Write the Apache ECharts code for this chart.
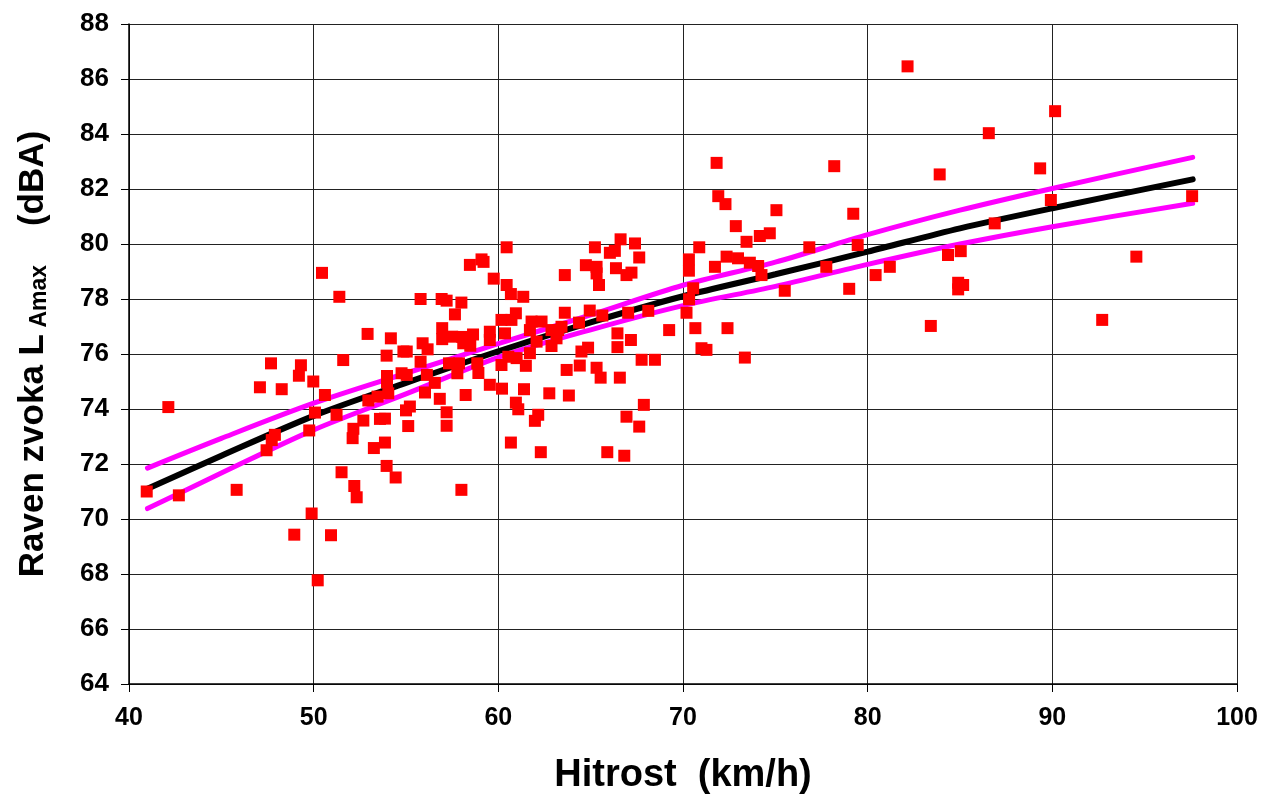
<!DOCTYPE html>
<html>
<head>
<meta charset="utf-8">
<script src="https://cdn.jsdelivr.net/npm/echarts@6/dist/echarts.min.js"></script>
<style>
  html, body { margin: 0; padding: 0; background: #fff; }
  #chart { width: 1263px; height: 794px; }
</style>
</head>
<body>
<div id="chart"></div>
<script>
// measured points: speed (km/h) and L_Amax (dBA)
const hitrost = [
  40.96, 42.13, 42.7, 45.83, 47.09, 47.69, 48.27, 49.31, 49.2, 49.98,
  50.07, 49.76, 47.9, 47.73, 47.45, 49.89, 48.95, 50.22, 50.45, 51.39,
  50.61, 51.24, 51.6, 52.92, 54.18, 53.95, 54.86, 55.04, 53.97, 53.97,
  54.76, 55.04, 54.04, 53.46, 52.96, 52.69, 52.15, 52.11, 53.86, 53.59,
  55.0, 55.21, 55.12, 53.26, 53.86, 53.95, 54.44, 51.51, 52.2, 52.33,
  58.0, 50.94, 55.79, 56.93, 57.2, 58.0, 57.65, 58.46, 59.09, 59.2,
  59.75, 56.96, 56.96, 57.5, 58.05, 58.63, 58.48, 58.1, 59.54, 59.54,
  55.9, 56.17, 55.79, 56.13, 56.56, 57.33, 57.87, 57.78, 58.86, 58.92,
  56.03, 56.83, 58.23, 57.2, 57.2, 59.54, 60.17, 60.45, 60.45, 60.68,
  61.35, 63.6, 65.23, 66.04, 66.31, 66.62, 67.4, 67.63, 64.74, 65.32,
  65.32, 65.45, 66.37, 66.94, 67.21, 63.6, 64.95, 65.63, 64.37, 67.03,
  68.12, 69.25, 66.45, 67.18, 66.45, 64.5, 64.86, 64.41, 63.7, 65.32,
  65.54, 66.58, 67.76, 68.48, 62.76, 63.82, 61.39, 60.2, 60.95, 61.08,
  62.16, 61.98, 60.68, 62.3, 65.9, 66.82, 66.94, 67.63, 67.88, 60.95,
  60.71, 61.8, 62.34, 61.71, 62.07, 62.88, 63.24, 63.42, 63.15, 62.88,
  61.71, 60.54, 60.99, 60.17, 61.49, 60.36, 71.82, 78.19, 71.91, 72.3,
  75.06, 79.22, 72.86, 73.44, 74.16, 74.7, 70.88, 70.32, 70.32, 71.73,
  72.36, 72.98, 73.62, 74.07, 74.25, 76.84, 77.76, 79.46, 75.51, 79.0,
  70.55, 70.33, 70.19, 70.67, 72.41, 71.0, 71.27, 73.35, 82.16, 90.15,
  86.56, 83.9, 89.34, 89.92, 97.57, 86.88, 84.35, 85.04, 81.2, 80.43,
  84.9, 85.17, 84.9, 94.55, 83.42, 92.7
];
const raven = [
  71.0, 74.07, 70.86, 71.06, 74.79, 75.66, 74.72, 75.59, 75.21, 75.0,
  73.87, 73.22, 73.06, 72.87, 72.5, 70.2, 69.43, 67.77, 78.95, 78.08,
  74.51, 73.79, 75.78, 76.73, 76.57, 75.94, 76.09, 76.09, 75.2, 74.97,
  75.3, 75.24, 74.57, 74.45, 74.31, 73.58, 73.28, 72.94, 73.65, 73.64,
  73.95, 74.09, 73.38, 72.58, 72.78, 71.93, 71.51, 71.7, 71.2, 70.79,
  71.06, 69.41, 78.0, 78.0, 77.94, 77.87, 77.44, 79.24, 79.44, 79.35,
  78.74, 76.94, 76.54, 76.63, 76.62, 76.71, 76.3, 76.39, 76.81, 76.51,
  76.39, 76.17, 75.72, 75.24, 74.95, 75.66, 75.66, 75.3, 75.66, 75.31,
  74.6, 74.37, 74.51, 73.88, 73.39, 74.88, 77.24, 79.88, 78.51, 78.18,
  78.08, 78.87, 79.88, 79.68, 79.75, 80.17, 80.02, 79.51, 79.23, 79.17,
  78.93, 78.51, 79.12, 78.87, 78.96, 77.5, 77.58, 77.4, 77.14, 77.5,
  77.57, 76.87, 76.75, 76.51, 76.25, 76.09, 76.23, 75.58, 75.42, 75.5,
  75.14, 75.14, 75.79, 75.79, 74.57, 74.49, 74.72, 74.74, 74.23, 73.99,
  73.79, 73.57, 72.78, 72.43, 72.43, 72.3, 73.72, 73.36, 74.15, 77.48,
  77.24, 77.18, 77.18, 76.87, 76.45, 76.87, 76.87, 76.99, 76.57, 76.29,
  76.03, 75.9, 75.85, 75.6, 75.57, 76.75, 82.95, 82.83, 81.74, 81.45,
  81.23, 81.1, 80.65, 80.08, 80.29, 80.39, 79.88, 79.44, 79.03, 79.17,
  79.54, 79.48, 79.32, 79.2, 78.87, 79.88, 79.17, 79.96, 78.3, 78.37,
  78.39, 77.99, 77.5, 76.94, 76.94, 76.21, 76.15, 75.87, 86.46, 84.83,
  84.03, 82.53, 82.75, 81.6, 81.74, 80.75, 79.6, 79.74, 79.17, 78.87,
  78.59, 78.51, 78.35, 79.54, 77.02, 77.24
];

// regression line and its band
const fitX   = [41, 45, 50, 55, 60, 65, 70, 75, 80, 85, 90, 97.6];
const fitY   = [71.1, 72.3, 73.75, 74.95, 76.1, 77.15, 78.1, 78.9, 79.72, 80.57, 81.3, 82.35];
const upperY = [71.85, 72.93, 74.21, 75.3, 76.38, 77.42, 78.5, 79.34, 80.34, 81.23, 82.02, 83.15];
const lowerY = [70.38, 71.67, 73.24, 74.55, 75.88, 76.88, 77.76, 78.46, 79.26, 80.0, 80.63, 81.48];

const chart = echarts.init(document.getElementById('chart'));

const pts = hitrost.map((x, i) => [x, raven[i]]);
const zip = ys => fitX.map((x, i) => [x, ys[i]]);

const lineSeries = (name, ys, color, width) => ({
  name, type: 'line', data: zip(ys), smooth: 0.3, showSymbol: false, symbol: 'none',
  lineStyle: { color, width, cap: 'round' }, z: 2, silent: true
});

const font = 'Arial, "Liberation Sans", sans-serif';

chart.setOption({
  backgroundColor: '#fff',
  animation: false,
  grid: { left: 129, right: 26, top: 24, bottom: 110, containLabel: false, outerBoundsMode: 'none' },
  xAxis: {
    type: 'value', min: 40, max: 100, interval: 10,
    name: 'Hitrost  (km/h)', nameLocation: 'middle', nameGap: 73,
    nameTextStyle: { fontFamily: font, fontWeight: 'bold', fontSize: 38, color: '#000' },
    axisLine: { show: true, lineStyle: { color: '#000', width: 1.5 } },
    axisTick: { show: true, length: 8, lineStyle: { color: '#000' } },
    axisLabel: { fontFamily: font, fontWeight: 'bold', fontSize: 25, color: '#000', margin: 22 },
    splitLine: { show: true, lineStyle: { color: '#222', width: 1 } }
  },
  yAxis: {
    type: 'value', min: 64, max: 88, interval: 2,
    name: '{a|Raven zvoka L}{b| Amax}{a|    (dBA)}', nameLocation: 'middle', nameGap: 78,
    nameRotate: 90,
    nameTextStyle: {
      fontFamily: font, fontWeight: 'bold', color: '#000',
      rich: {
        a: { fontFamily: font, fontWeight: 'bold', fontSize: 35, color: '#000' },
        b: { fontFamily: font, fontWeight: 'bold', fontSize: 23, color: '#000', verticalAlign: 'bottom', padding: [13, 0, 0, 0] }
      }
    },
    axisLine: { show: true, lineStyle: { color: '#000', width: 1.5 } },
    axisTick: { show: true, length: 8, lineStyle: { color: '#000' } },
    axisLabel: { fontFamily: font, fontWeight: 'bold', fontSize: 26, color: '#000', margin: 20 },
    splitLine: { show: true, lineStyle: { color: '#222', width: 1 } }
  },
  series: [
    lineSeries('upper', upperY, '#FF00FF', 5),
    lineSeries('lower', lowerY, '#FF00FF', 5),
    lineSeries('fit', fitY, '#000000', 6),
    {
      name: 'meritve', type: 'scatter', data: pts, symbol: 'rect', symbolSize: 12,
      itemStyle: { color: '#FF0000', opacity: 1 }, z: 3
    }
  ]
});
</script>
</body>
</html>
